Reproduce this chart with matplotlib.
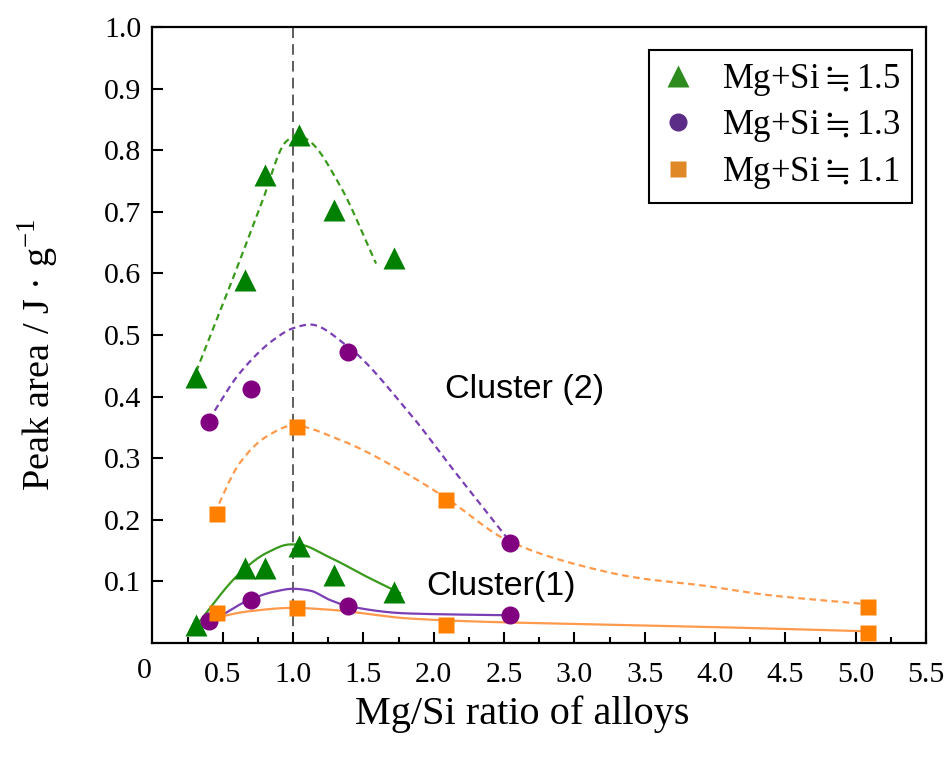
import numpy as np
import matplotlib
matplotlib.use("Agg")
import matplotlib.pyplot as plt
from matplotlib.lines import Line2D
from matplotlib.ticker import FixedLocator

# ---- measured points: Mg/Si ratio vs. DSC peak area ----
ratio_15 = [0.31, 0.66, 0.80, 1.04, 1.29, 1.72]
ratio_13 = [0.40, 0.70, 1.39, 2.54]
ratio_11 = [0.46, 1.03, 2.09, 5.09]

# Cluster (2) peak areas
c2_15 = [0.432, 0.590, 0.759, 0.824, 0.703, 0.625]
c2_13 = [0.359, 0.413, 0.473, 0.162]
c2_11 = [0.209, 0.351, 0.232, 0.059]

# Cluster (1) peak areas
c1_15 = [0.029, 0.121, 0.121, 0.157, 0.110, 0.082]
c1_13 = [0.035, 0.070, 0.060, 0.045]
c1_11 = [0.048, 0.056, 0.029, 0.016]

# ---- knots of the hand-drawn trend curves ----
trend2_15_x = [0.31, 0.54, 0.77, 0.95, 1.03, 1.12, 1.33, 1.59]
trend2_15_y = [0.440, 0.573, 0.710, 0.814, 0.825, 0.814, 0.744, 0.616]
trend2_13_x = [0.40, 0.62, 0.86, 1.00, 1.12, 1.39, 1.81, 2.16, 2.53]
trend2_13_y = [0.362, 0.438, 0.492, 0.511, 0.517, 0.481, 0.378, 0.275, 0.168]
trend2_11_x = [0.44, 0.62, 0.81, 1.00, 1.33, 1.76, 2.09, 2.52, 2.99, 3.47, 3.89, 4.37, 5.08]
trend2_11_y = [0.210, 0.292, 0.335, 0.353, 0.330, 0.281, 0.235, 0.167, 0.129, 0.105, 0.094, 0.078, 0.063]

trend1_15_x = [0.30, 0.62, 0.81, 0.98, 1.03, 1.26, 1.52, 1.76]
trend1_15_y = [0.025, 0.113, 0.146, 0.160, 0.160, 0.139, 0.108, 0.081]
trend1_13_x = [0.42, 0.69, 0.86, 1.00, 1.12, 1.26, 1.39, 1.81, 2.53]
trend1_13_y = [0.035, 0.070, 0.083, 0.088, 0.085, 0.070, 0.060, 0.048, 0.045]
trend1_11_x = [0.43, 0.67, 1.00, 1.26, 1.81, 2.28, 3.18, 4.13, 5.08]
trend1_11_y = [0.040, 0.051, 0.057, 0.054, 0.040, 0.035, 0.030, 0.025, 0.019]

x_ticks = [0.5, 1.0, 1.5, 2.0, 2.5, 3.0, 3.5, 4.0, 4.5, 5.0, 5.5]
x_ticklabels = ["0.5", "1.0", "1.5", "2.0", "2.5", "3.0", "3.5", "4.0", "4.5", "5.0", "5.5"]
y_ticks = [0.1, 0.2, 0.3, 0.4, 0.5, 0.6, 0.7, 0.8, 0.9, 1.0]
y_ticklabels = ["0.1", "0.2", "0.3", "0.4", "0.5", "0.6", "0.7", "0.8", "0.9", "1.0"]

# "≒" typeset through mathtext so it comes from the STIX fallback font
legend_labels = ["Mg+Si$\\fallingdotseq$1.5", "Mg+Si$\\fallingdotseq$1.3", "Mg+Si$\\fallingdotseq$1.1"]


def pchip(x, y, xs):
    """Shape-preserving piecewise cubic Hermite interpolation."""
    x = np.asarray(x, float)
    y = np.asarray(y, float)
    h = np.diff(x)
    d = np.diff(y) / h
    n = len(x)
    m = np.zeros(n)
    for k in range(1, n - 1):
        if d[k - 1] * d[k] <= 0:
            m[k] = 0.0
        else:
            w1 = 2 * h[k] + h[k - 1]
            w2 = h[k] + 2 * h[k - 1]
            m[k] = (w1 + w2) / (w1 / d[k - 1] + w2 / d[k])
    m[0] = d[0]
    m[-1] = d[-1]
    idx = np.clip(np.searchsorted(x, xs) - 1, 0, n - 2)
    t = (xs - x[idx]) / h[idx]
    h00 = 2 * t**3 - 3 * t**2 + 1
    h10 = t**3 - 2 * t**2 + t
    h01 = -2 * t**3 + 3 * t**2
    h11 = t**3 - t**2
    return h00 * y[idx] + h10 * h[idx] * m[idx] + h01 * y[idx + 1] + h11 * h[idx] * m[idx + 1]


plt.rcParams["font.family"] = ["Liberation Serif", "DejaVu Serif"]
plt.rcParams["mathtext.fontset"] = "custom"
plt.rcParams["mathtext.rm"] = "Liberation Serif"
plt.rcParams["mathtext.fallback"] = "stix"

fig = plt.figure(figsize=(9.5, 7.63), dpi=100)
ax = fig.add_axes([0.1605, 0.1573, 0.8142, 0.8073])
ax.set_xlim(0, 5.5)
ax.set_ylim(0, 1.0)

green_m, purple_m, orange_m = "#008000", "#800080", "#ff8000"
green_l, purple_l, orange_l = "#3a9a1c", "#7a3fb5", "#ff9a4d"

ax.axvline(1.0, color="#333333", lw=1.1, ls=(0, (7, 4)), zorder=1)

dash = (0, (3, 2))
curves = [
    (trend2_15_x, trend2_15_y, green_l, dash),
    (trend2_13_x, trend2_13_y, purple_l, dash),
    (trend2_11_x, trend2_11_y, orange_l, dash),
    (trend1_15_x, trend1_15_y, green_l, "-"),
    (trend1_13_x, trend1_13_y, purple_l, "-"),
    (trend1_11_x, trend1_11_y, orange_l, "-"),
]
for cx, cy, col, ls in curves:
    xs = np.linspace(cx[0], cx[-1], 400)
    ax.plot(xs, pchip(cx, cy, xs), color=col, lw=1.6, ls=ls, zorder=2)

for xv, yv, mk, ms, col in [
    (ratio_15, c2_15, "^", 15.5, green_m),
    (ratio_13, c2_13, "o", 13, purple_m),
    (ratio_11, c2_11, "s", 12, orange_m),
    (ratio_15, c1_15, "^", 15.5, green_m),
    (ratio_13, c1_13, "o", 13, purple_m),
    (ratio_11, c1_11, "s", 12, orange_m),
]:
    ax.plot(xv, yv, ls="none", marker=mk, ms=ms, color=col, mec="none", zorder=3)

ax.text(2.08, 0.411, "Cluster (2)", family="Liberation Sans", fontsize=24.5, va="center", ha="left")
ax.text(1.95, 0.091, "Cluster(1)", family="Liberation Sans", fontsize=24.5, va="center", ha="left")

# axes styling
for sp in ax.spines.values():
    sp.set_linewidth(1.6)
ax.xaxis.set_major_locator(FixedLocator(x_ticks))
ax.set_xticklabels(x_ticklabels)
ax.xaxis.set_minor_locator(FixedLocator([0.25 + 0.5 * i for i in range(11)]))
ax.yaxis.set_major_locator(FixedLocator(y_ticks))
ax.set_yticklabels(y_ticklabels)
ax.tick_params(which="major", direction="in", length=8, width=1.5, labelsize=21.5)
ax.tick_params(axis="x", which="major", pad=14)
ax.tick_params(axis="y", which="major", pad=8)
ax.tick_params(which="minor", direction="in", length=4, width=1.5)
ax.tick_params(top=False, right=False)
ax.annotate("0", xy=(0, 0), xycoords="data", xytext=(-6, -20), textcoords="offset points",
            ha="center", va="center", fontsize=21.5)

ax.set_xlabel("Mg/Si ratio of alloys", fontsize=29)
ax.xaxis.set_label_coords(0.478, -0.115)
ax.xaxis.label.set_va("center")
ax.set_ylabel("Peak area / J \u00b7 g$^{\\mathregular{-1}}$", fontsize=27.5)
ax.yaxis.set_label_coords(-0.148, 0.4675)
ax.yaxis.label.set_va("center")

handles = [
    Line2D([], [], ls="none", marker="^", ms=15.5, color="#2e8b1e", mec="none"),
    Line2D([], [], ls="none", marker="o", ms=13, color="#5b2d87", mec="none"),
    Line2D([], [], ls="none", marker="s", ms=12, color="#e08828", mec="none"),
]
leg = ax.legend(handles, legend_labels, loc="upper right", bbox_to_anchor=(0.982, 0.963),
                prop={"family": ["Liberation Serif", "DejaVu Sans"], "size": 25},
                frameon=True, fancybox=False, edgecolor="black", framealpha=1,
                handlelength=1.0, handletextpad=0.75, labelspacing=0.3, borderpad=0.35,
                borderaxespad=0)
leg.get_frame().set_linewidth(1.5)

fig.savefig("out.png", dpi=100)
